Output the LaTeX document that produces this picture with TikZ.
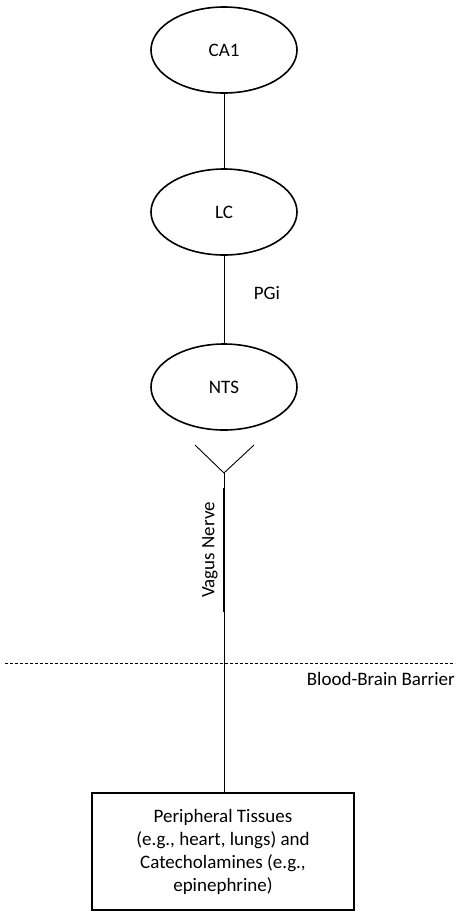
\documentclass[tikz,border=0pt]{standalone}
\usepackage{fontspec}
\setmainfont{Carlito}
\usetikzlibrary{shapes.geometric}
\begin{document}
\begin{tikzpicture}[x=1pt,y=-1pt, font=\fontsize{19}{23}\selectfont,
 region/.style={ellipse, draw, line width=1.6pt, minimum width=146pt, minimum height=86pt, inner sep=0pt},
 link/.style={line width=0.9pt},
 nerve/.style={line width=2pt},
 tissuebox/.style={draw, line width=1.6pt, minimum width=262pt, minimum height=117pt, align=center, inner sep=0pt}]
\useasboundingbox (0,0) rectangle (460,911);
\node[region] (ca1) at (224,50) {CA1};
\node[region] (lc) at (224,212) {LC};
\node[region] (nts) at (224,387) {NTS};
\draw[link] (ca1) -- (lc);
\draw[link] (lc) -- (nts);
\node (pgi) at (267,293) {PGi};
\coordinate (vl) at (195,445);
\coordinate (vt) at (224,473);
\coordinate (vr) at (254,445);
\draw[link] (vl) -- (vt) -- (vr);
\node[tissuebox] (tissue) at (223,851.5) {Peripheral Tissues\\(e.g., heart, lungs) and\\Catecholamines (e.g.,\\epinephrine)};
\draw[link] (vt) -- (vt |- tissue.north);
\coordinate (nt) at (224,488);
\coordinate (nb) at (224,612);
\draw[nerve] (nt) -- (nb);
\node[rotate=90] (vagus) at (210,550) {Vagus Nerve};
\coordinate (bl) at (5,663);
\coordinate (br) at (455,663);
\draw[link, dash pattern=on 3pt off 2pt] (bl) -- (br);
\node[anchor=east, inner sep=0pt] (bbb) at (455,679) {Blood-Brain Barrier};
\end{tikzpicture}
\end{document}
